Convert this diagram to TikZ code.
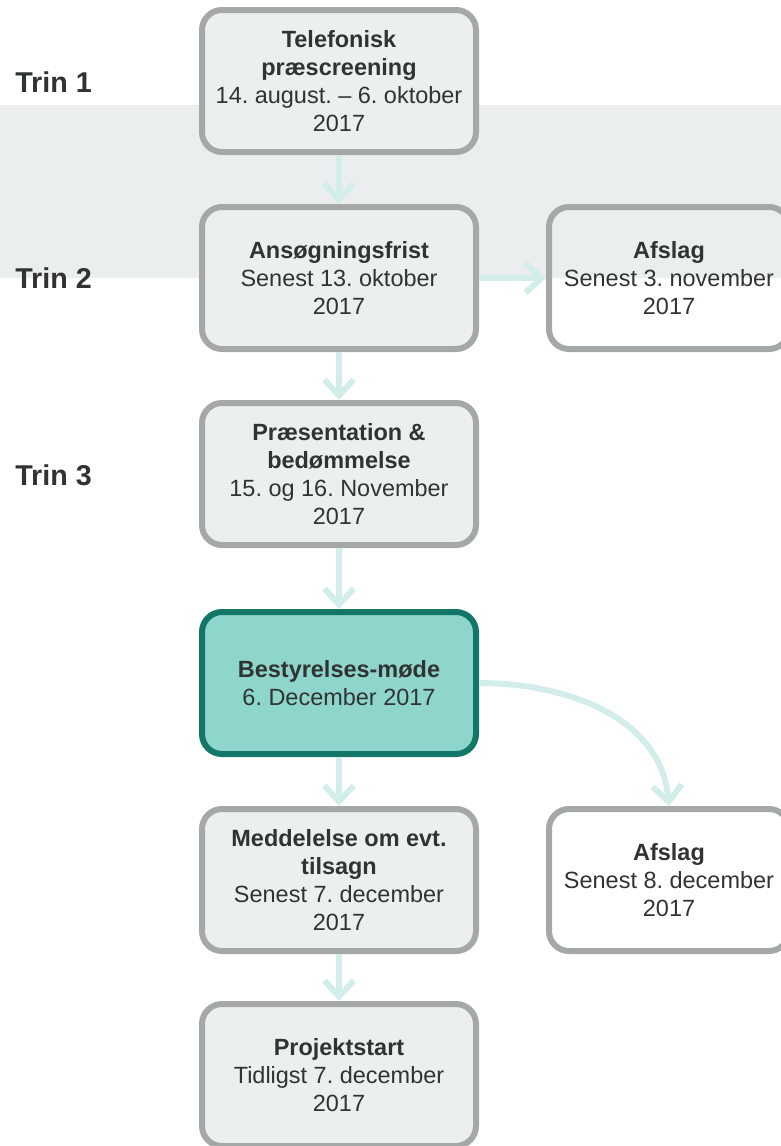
\documentclass[tikz,border=0pt]{standalone}
\usepackage{fontspec}
\setmainfont{Liberation Sans}
\frenchspacing
\usetikzlibrary{arrows.meta}
\definecolor{bandgray}{HTML}{EAEEEF}
\definecolor{boxfill}{HTML}{EBEFF0}
\definecolor{boxline}{HTML}{A4A9A8}
\definecolor{tealfill}{HTML}{8ED5CC}
\definecolor{tealline}{HTML}{137767}
\definecolor{arrowcol}{HTML}{D3EEEA}
\definecolor{txt}{HTML}{2F3433}
\tikzset{
  stagebox/.style={draw=boxline, fill=boxfill, line width=4.5pt, rounded corners=15pt,
    minimum width=205.5pt, minimum height=106.5pt, align=center, text=txt,
    font=\fontsize{17.6}{21}\selectfont},
  rejectbox/.style={stagebox, fill=none, minimum width=180pt},
  boardbox/.style={stagebox, draw=tealline, fill=tealfill},
  trinlabel/.style={anchor=base west, inner sep=0pt, text=txt, font=\fontsize{21.5}{24}\selectfont\bfseries},
  flow/.style={draw=arrowcol, line width=4.5pt, -{Straight Barb[length=12pt,width=22pt]}},
}
\begin{document}
\begin{tikzpicture}[x=0.75pt,y=-0.75pt]
\useasboundingbox (0,0) rectangle (781,1146);
\fill[bandgray] (0,105) rectangle (781,278);
\node[trinlabel] (t1) at (15,92) {Trin 1};
\node[trinlabel] (t2) at (15,288) {Trin 2};
\node[trinlabel] (t3) at (15,485) {Trin 3};
\node[stagebox] (b1) at (339,81) {\textbf{Telefonisk}\\\textbf{præscreening}\\14. august. – 6. oktober\\2017};
\node[stagebox] (b2) at (339,278) {\textbf{Ansøgningsfrist}\\Senest 13. oktober\\2017};
\node[rejectbox] (a1) at (669,278) {\textbf{Afslag}\\Senest 3. november\\2017};
\node[stagebox] (b3) at (339,474) {\textbf{Præsentation \&}\\\textbf{bedømmelse}\\15. og 16. November\\2017};
\node[boardbox] (b4) at (339,683) {\textbf{Bestyrelses-møde}\\6. December 2017};
\node[stagebox] (b5) at (339,880) {\textbf{Meddelelse om evt.}\\\textbf{tilsagn}\\Senest 7. december\\2017};
\node[rejectbox] (a2) at (669,880) {\textbf{Afslag}\\Senest 8. december\\2017};
\node[stagebox] (b6) at (339,1075) {\textbf{Projektstart}\\Tidligst 7. december\\2017};
\draw[flow] (b1) -- (b2);
\draw[flow] (b2) -- (a1);
\draw[flow] (b2) -- (b3);
\draw[flow] (b3) -- (b4);
\draw[flow] (b4) -- (b5);
\draw[flow] (b5) -- (b6);
\draw[flow] (b4.east) to[out=0,in=95] (a2.north);
\end{tikzpicture}
\end{document}
